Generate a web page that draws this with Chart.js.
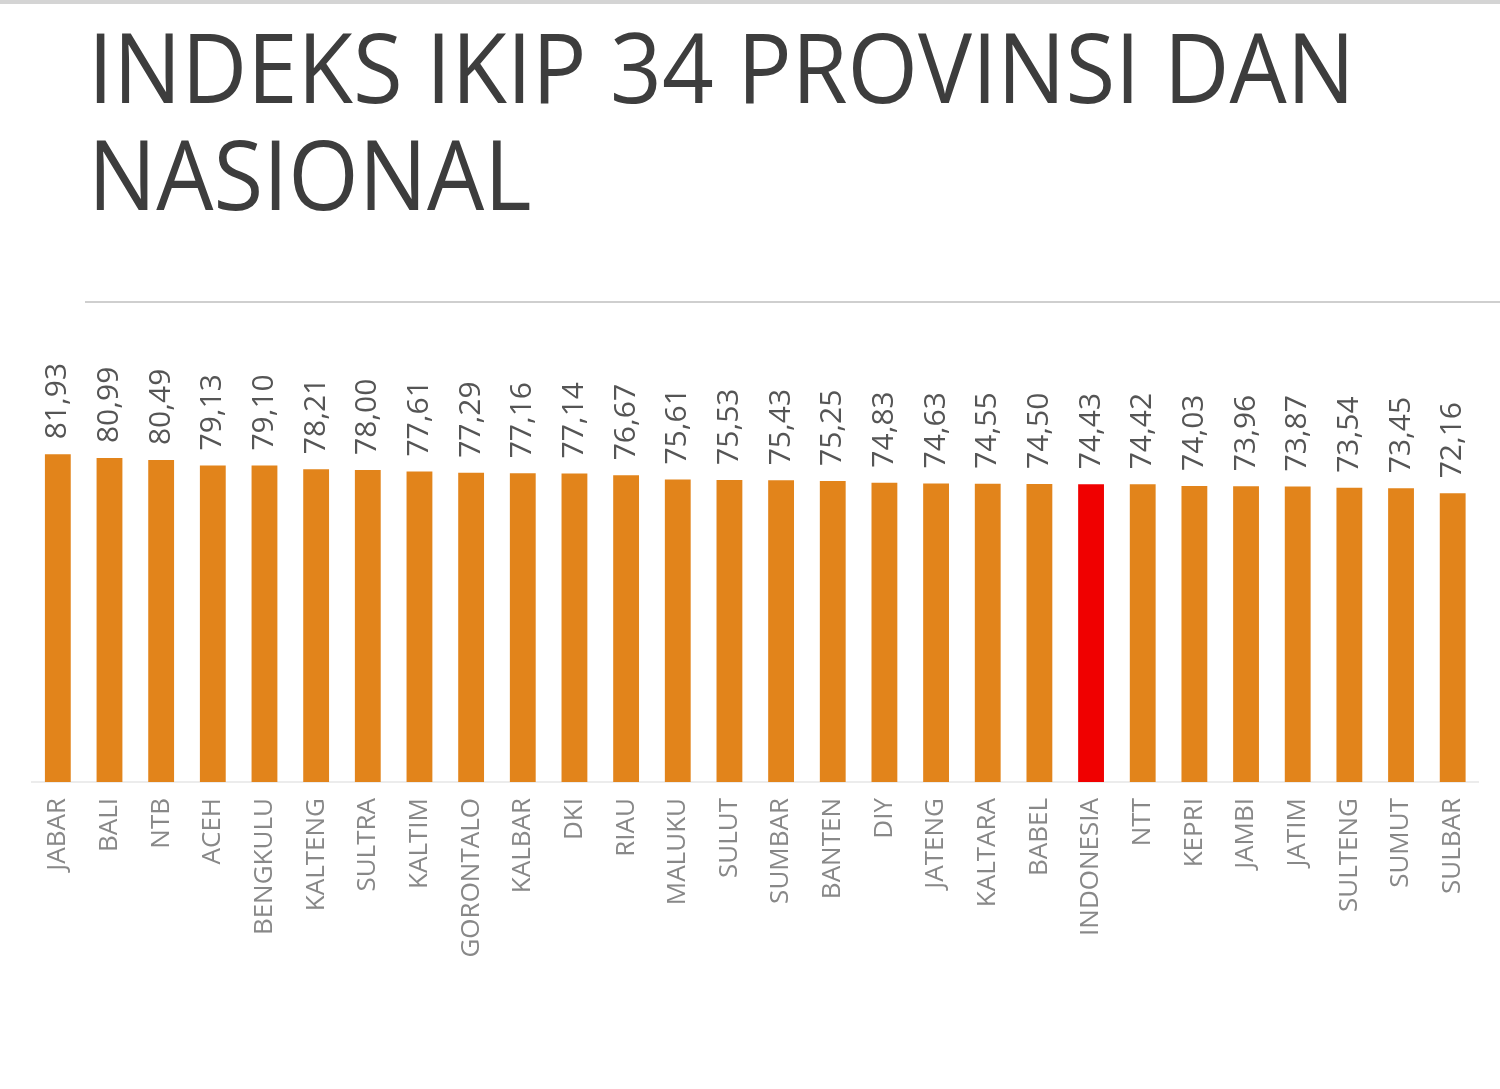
<!DOCTYPE html>
<html lang="id">
<head>
    <meta charset="UTF-8">
    <title>Indeks IKIP 34 Provinsi dan Nasional</title>
    <style>
        body { margin: 0; padding: 0; background: #fff; font-family: "Open Sans", sans-serif; }
        #wrap { position: relative; width: 1500px; height: 1089px; overflow: hidden; }
        #topline { position: absolute; left: 0; top: 0; width: 1500px; height: 4px; background: #d4d4d4; }
        #title { position: absolute; left: 88px; top: 12px; margin: 0; font-weight: 400; font-size: 97px; line-height: 107px;
                 color: #3d3d3d; white-space: nowrap; transform-origin: 0 0; }
        #rule { position: absolute; left: 85px; top: 301px; width: 1415px; height: 2px; background: #cfcfcf; }
        #chart { position: absolute; left: 0; top: 0; }
    </style>
    <script src="https://cdn.jsdelivr.net/npm/chart.js"></script>
</head>
<body>
<div id="wrap">
    <div id="topline"></div>
    <h1 id="title"><span id="t1">INDEKS IKIP 34 PROVINSI DAN</span><br><span>NASIONAL</span></h1>
    <div id="rule"></div>
    <canvas id="chart" width="1500" height="1089"></canvas>
</div>

<script>
    // provinces in the order shown, plus the national index
    const provinces = ['JABAR', 'BALI', 'NTB', 'ACEH', 'BENGKULU', 'KALTENG', 'SULTRA', 'KALTIM', 'GORONTALO',
        'KALBAR', 'DKI', 'RIAU', 'MALUKU', 'SULUT', 'SUMBAR', 'BANTEN', 'DIY', 'JATENG', 'KALTARA', 'BABEL',
        'INDONESIA', 'NTT', 'KEPRI', 'JAMBI', 'JATIM', 'SULTENG', 'SUMUT', 'SULBAR'];
    const ikipValues = [81.93, 80.99, 80.49, 79.13, 79.10, 78.21, 78.00, 77.61, 77.29, 77.16, 77.14, 76.67,
        75.61, 75.53, 75.43, 75.25, 74.83, 74.63, 74.55, 74.50, 74.43, 74.42, 74.03, 73.96, 73.87, 73.54,
        73.45, 72.16];
    const nationalLabel = 'INDONESIA';

    // stretch the first title line to the width it has in the slide
    const t1 = document.getElementById('t1');
    const sx = 1267 / t1.getBoundingClientRect().width;
    document.getElementById('title').style.transform = 'scaleX(' + sx + ')';

    const barColors = provinces.map(p => p === nationalLabel ? '#f00000' : '#e2841b');

    // values written vertically above each bar, with a comma as decimal mark
    const valueLabels = {
        id: 'valueLabels',
        afterDatasetsDraw(chart) {
            const ctx = chart.ctx;
            const meta = chart.getDatasetMeta(0);
            ctx.save();
            ctx.font = '30px "Open Sans"';
            ctx.fillStyle = '#555555';
            ctx.textAlign = 'left';
            ctx.textBaseline = 'middle';
            meta.data.forEach((bar, i) => {
                ctx.save();
                ctx.translate(bar.x, bar.y - 15);
                ctx.rotate(-Math.PI / 2);
                ctx.fillText(ikipValues[i].toFixed(2).replace('.', ','), 0, 0);
                ctx.restore();
            });
            ctx.restore();
        }
    };

    new Chart(document.getElementById('chart'), {
        type: 'bar',
        data: {
            labels: provinces,
            datasets: [{
                data: ikipValues,
                backgroundColor: barColors,
                barPercentage: 0.5,
                categoryPercentage: 1
            }]
        },
        options: {
            responsive: false,
            animation: false,
            layout: { padding: { left: 32, right: 6, top: 382, bottom: 0 } },
            plugins: { legend: { display: false }, tooltip: { enabled: false } },
            scales: {
                y: { display: false, min: 0, max: 100 },
                x: {
                    grid: { display: false, drawTicks: false },
                    border: { display: true, color: '#ececec', width: 2 },
                    ticks: {
                        minRotation: 90, maxRotation: 90, autoSkip: false, padding: 16,
                        color: '#888888', font: { family: '"Open Sans"', size: 26 }
                    },
                    afterFit: scale => { scale.height = 307; }
                }
            }
        },
        plugins: [valueLabels]
    });
</script>
</body>
</html>
